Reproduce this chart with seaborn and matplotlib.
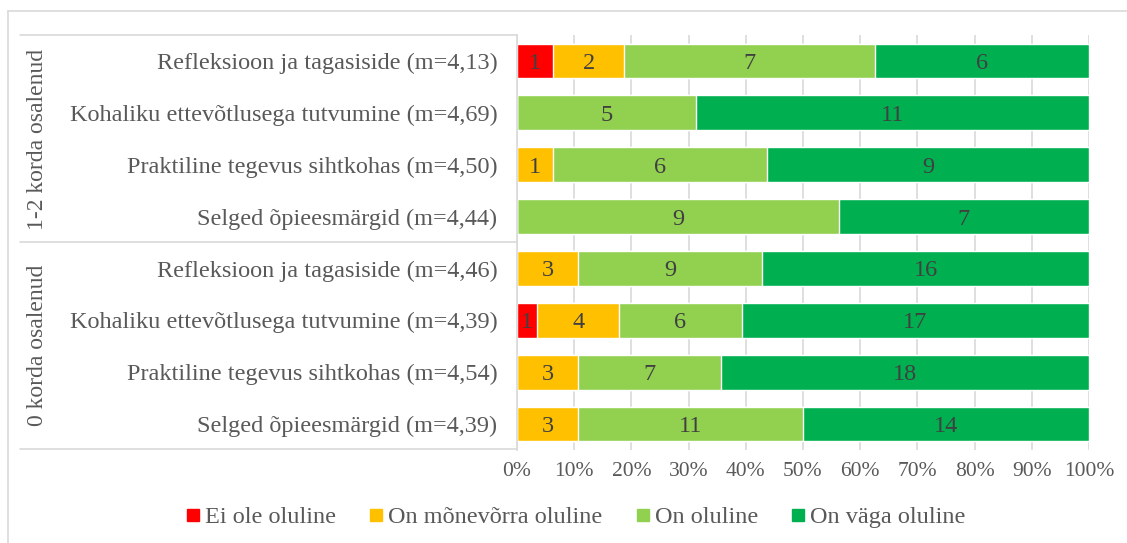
import numpy as np
import pandas as pd
import matplotlib
matplotlib.use("Agg")
import matplotlib.pyplot as plt
from matplotlib.lines import Line2D
import seaborn as sns

# Response categories (legend order) and their colours
levels = ["Ei ole oluline", "On mõnevõrra oluline", "On oluline", "On väga oluline"]
colors = ["#FF0000", "#FFC000", "#92D050", "#00B050"]

# Row labels, top to bottom
row_labels = [
    "Refleksioon ja tagasiside (m=4,13)",
    "Kohaliku ettevõtlusega tutvumine (m=4,69)",
    "Praktiline tegevus sihtkohas (m=4,50)",
    "Selged õpieesmärgid (m=4,44)",
    "Refleksioon ja tagasiside (m=4,46)",
    "Kohaliku ettevõtlusega tutvumine (m=4,39)",
    "Praktiline tegevus sihtkohas (m=4,54)",
    "Selged õpieesmärgid (m=4,39)",
]
group_labels = ["1-2 korda osalenud", "0 korda osalenud"]

# Number of answers per category for each row
ei_ole = [1, 0, 0, 0, 0, 1, 0, 0]
monevorra = [2, 0, 1, 0, 3, 4, 3, 3]
oluline = [7, 5, 6, 9, 9, 6, 7, 11]
vaga = [6, 11, 9, 7, 16, 17, 18, 14]

x_ticks = [0, 10, 20, 30, 40, 50, 60, 70, 80, 90, 100]

counts = np.array([ei_ole, monevorra, oluline, vaga], dtype=float)  # levels x rows
totals = counts.sum(axis=0)
shares = counts / totals * 100
cum = np.cumsum(shares, axis=0)

df = pd.DataFrame({"label": row_labels})
for i, lev in enumerate(levels):
    df[lev] = cum[i]

sns.set_theme(style="white")
plt.rcParams["font.family"] = ["Liberation Serif", "DejaVu Serif"]

W, H = 1127, 543
fig = plt.figure(figsize=(W / 100, H / 100), dpi=100)
fig.patch.set_facecolor("white")


def fx(px):
    return px / W


def fy(py):
    return 1 - py / H


ax = fig.add_axes([fx(517), fy(450), fx(1089) - fx(517), fy(35) - fy(450)])

# Stacked bars: draw cumulative totals from the last level backwards
for i in range(len(levels) - 1, -1, -1):
    sns.barplot(data=df, x=levels[i], y="label", orient="h", color=colors[i],
                width=0.67, saturation=1, ax=ax, zorder=2)

# Segment count labels
for r in range(len(row_labels)):
    for i in range(len(levels)):
        c = counts[i, r]
        if c > 0:
            start = cum[i, r] - shares[i, r]
            ax.text(start + shares[i, r] / 2, r, f"{int(c)}", ha="center",
                    va="center_baseline", fontsize=17.5, color="#404040", zorder=3)

ax.set_xlim(0, 100)
ax.set_xticks(x_ticks)
ax.set_xticklabels([f"{t}%" for t in x_ticks], fontsize=15.5, color="#595959")
ax.set_xlabel("")
ax.set_ylabel("")
ax.tick_params(axis="x", length=0, pad=9)
ax.tick_params(axis="y", length=0, pad=14)
for lab in ax.get_yticklabels():
    lab.set_fontsize(17.5)
    lab.set_color("#595959")
ax.xaxis.grid(True, color="#D9D9D9", lw=1.2, zorder=0)
ax.set_axisbelow(True)
for s in ["top", "right", "bottom"]:
    ax.spines[s].set_visible(False)
ax.spines["left"].set_color("#D9D9D9")
ax.spines["left"].set_linewidth(1.2)

# Outer frame (left and top edges)
line_kw = dict(color="#D9D9D9", lw=1.2, transform=fig.transFigure)
fig.add_artist(Line2D([fx(8), fx(8)], [fy(11), 0], **line_kw))
fig.add_artist(Line2D([fx(8), 1], [fy(11), fy(11)], **line_kw))

# Group boxes for the row labels
for py in [35, 242, 449]:
    fig.add_artist(Line2D([fx(20), fx(517)], [fy(py), fy(py)], **line_kw))

fig.text(fx(38), fy(139), group_labels[0], rotation=90, ha="center", va="center",
         fontsize=17, color="#595959")
fig.text(fx(38), fy(345), group_labels[1], rotation=90, ha="center", va="center",
         fontsize=17, color="#595959")

# Legend
handles = [Line2D([], [], marker="s", linestyle="none", markersize=8.5,
                  markerfacecolor=c, markeredgecolor=c) for c in colors]
fig.legend(handles, levels, loc="center", bbox_to_anchor=(fx(575), fy(517)),
           ncol=4, frameon=False, fontsize=17.5, handletextpad=0.15,
           columnspacing=1.3, handlelength=0.7, labelcolor="#595959")

fig.savefig("out.png", dpi=100, facecolor="white")
